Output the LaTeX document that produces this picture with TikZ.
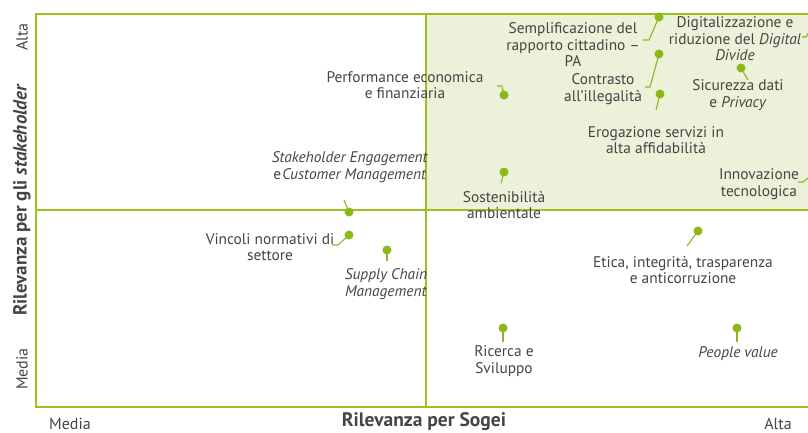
\documentclass[tikz,border=0pt]{standalone}
\usepackage{fontspec}
\setmainfont{PT Sans}
\definecolor{lgreen}{HTML}{9AC31C}
\definecolor{dgreen}{HTML}{8CB81A}
\definecolor{qfill}{HTML}{ECF1DA}
\definecolor{txt}{HTML}{454545}
\tikzset{
  frameline/.style={draw=lgreen,line width=2.2pt},
  dotpt/.style={circle,fill=dgreen,inner sep=0pt,minimum size=9pt},
  leader/.style={draw=dgreen,line width=1.1pt},
  lbl/.style={align=center,text=txt,inner sep=0pt,font=\fontsize{15.4}{16.5}\selectfont},
  axlbl/.style={text=txt,inner sep=0pt,font=\fontsize{16}{16}\selectfont},
  axtitle/.style={text=txt,inner sep=0pt,font=\fontsize{19.5}{20}\selectfont\bfseries},
  aytitle/.style={text=txt,inner sep=0pt,font=\fontsize{19}{20}\selectfont\bfseries}
}
\begin{document}
\begin{tikzpicture}[x=1pt,y=-1pt]
\useasboundingbox (0,0) rectangle (808,433);
\clip (0,0) rectangle (808,433);
% quadrant fill and frame
\fill[qfill] (426,14) rectangle (815,210);
\draw[frameline] (36,14) rectangle (815,407);
\draw[frameline] (426,14) -- (426,407);
\draw[frameline] (36,210) -- (815,210);
% axis labels
\node[axlbl] (xlo) at (70,423.5) {Media};
\node[axtitle] (xt) at (424,422) {Rilevanza per Sogei};
\node[axlbl] (xhi) at (778,423.5) {Alta};
\node[axlbl,rotate=90] (yhi) at (22,37) {Alta};
\node[aytitle,rotate=90] (yt) at (22,200) {Rilevanza per gli \textit{stakeholder}};
\node[axlbl,rotate=90] (ylo) at (22,369) {Media};
% dots
\node[dotpt] (d1) at (659,17) {};
\node[dotpt] (d2) at (659,54) {};
\node[dotpt] (d3) at (660,94) {};
\node[dotpt] (d4) at (741,68) {};
\node[dotpt] (d5) at (815,22) {};
\node[dotpt] (d6) at (816,172) {};
\node[dotpt] (d7) at (504,95) {};
\node[dotpt] (d8) at (504,172) {};
\node[dotpt] (d9) at (349,212) {};
\node[dotpt] (d10) at (349,235) {};
\node[dotpt] (d11) at (387,250) {};
\node[dotpt] (d12) at (698,231) {};
\node[dotpt] (d13) at (503,328) {};
\node[dotpt] (d14) at (737,328) {};
% labels
\node[lbl] (t1) at (573,45) {Semplificazione del\\rapporto cittadino –\\PA};
\node[lbl] (t2) at (603,89) {Contrasto\\all'illegalità};
\node[lbl] (t3) at (656,140) {Erogazione servizi in\\alta affidabilità};
\node[lbl] (t4) at (738,95) {Sicurezza dati\\e \textit{Privacy}};
\node[lbl] (t5) at (735,39) {Digitalizzazione e\\riduzione del \textit{Digital}\\\textit{Divide}};
\node[lbl] (t6) at (759,184) {Innovazione\\tecnologica};
\node[lbl] (t7) at (405,85) {Performance economica\\e finanziaria};
\node[lbl] (t8) at (504,205) {Sostenibilità\\ambientale};
\node[lbl] (t9) at (350,167) {\textit{Stakeholder Engagement}\\e\hspace{1pt}\textit{Customer Management}};
\node[lbl] (t10) at (270,247) {Vincoli normativi di\\settore};
\node[lbl] (t11) at (386,284) {\textit{Supply Chain}\\\textit{Management}};
\node[lbl] (t12) at (683,270) {Etica, integrità, trasparenza\\e anticorruzione};
\node[lbl] (t13) at (504,361) {Ricerca e\\Sviluppo};
\node[lbl] (t14) at (738,354) {\textit{People value}};
% leader ends
\coordinate (e1a) at (649,40); \coordinate (e1b) at (643,40);
\coordinate (e2a) at (650,87); \coordinate (e2b) at (645,87);
\coordinate (e3) at (656,110);
\coordinate (e4) at (748,80);
\coordinate (e5a) at (806,37); \coordinate (e5b) at (802,37);
\coordinate (e6a) at (803,182); \coordinate (e6b) at (798,182);
\coordinate (e7a) at (502,86); \coordinate (e7b) at (497,86);
\coordinate (e8) at (501,183);
\coordinate (e9) at (344,200);
\coordinate (e10a) at (338,245); \coordinate (e10b) at (332,245);
\coordinate (e11) at (387,261);
\coordinate (e12) at (687,246);
\coordinate (e13) at (503,342);
\coordinate (e14) at (737,342);
% leaders
\draw[leader] (d1.center) -- (e1a) -- (e1b);
\draw[leader] (d2.center) -- (e2a) -- (e2b);
\draw[leader] (d3.center) -- (e3);
\draw[leader] (d4.center) -- (e4);
\draw[leader] (d5.center) -- (e5a) -- (e5b);
\draw[leader] (d6.center) -- (e6a) -- (e6b);
\draw[leader] (d7.center) -- (e7a) -- (e7b);
\draw[leader] (d8.center) -- (e8);
\draw[leader] (d9.center) -- (e9);
\draw[leader] (d10.center) -- (e10a) -- (e10b);
\draw[leader] (d11.center) -- (e11);
\draw[leader] (d12.center) -- (e12);
\draw[leader] (d13.center) -- (e13);
\draw[leader] (d14.center) -- (e14);
\end{tikzpicture}
\end{document}
